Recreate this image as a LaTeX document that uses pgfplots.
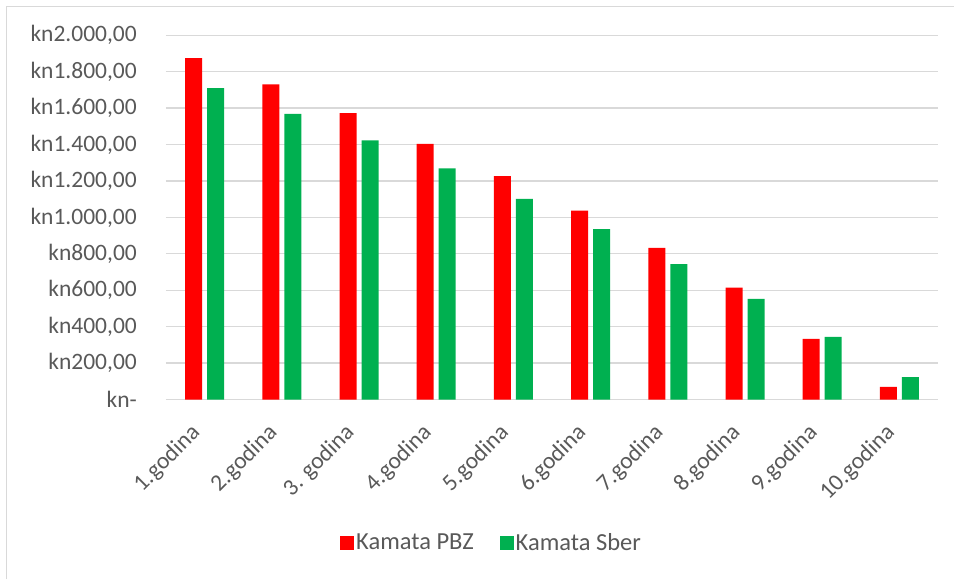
\documentclass[border=0pt]{standalone}
\usepackage{pgfplots}
\pgfplotsset{compat=1.18}
\usepackage{fontspec}
\setmainfont{Carlito}
\definecolor{txt}{HTML}{595959}
\definecolor{grd}{HTML}{D9D9D9}
\definecolor{pbz}{HTML}{FF0000}
\definecolor{sber}{HTML}{00B050}
\begin{document}
\fontsize{20}{24}\selectfont
\begin{tikzpicture}
\path[use as bounding box] (0,0) rectangle (954pt,579pt);
\draw[grd, line width=1.3pt] (6.7pt,0) -- (6.7pt,572.3pt) -- (954pt,572.3pt);
\begin{axis}[
  at={(166pt,179.5pt)}, anchor=south west,
  scale only axis, width=772pt, height=364.2pt,
  ybar=5pt, bar width=17pt,
  xmin=-0.5, xmax=9.5, ymin=0, ymax=2000,
  xtick={0,...,9},
  xticklabels={1.godina,2.godina,3. godina,4.godina,5.godina,6.godina,7.godina,8.godina,9.godina,10.godina},
  ytick={0,200,...,2000},
  yticklabels={kn-,kn200{,}00,kn400{,}00,kn600{,}00,kn800{,}00,kn1.000{,}00,kn1.200{,}00,kn1.400{,}00,kn1.600{,}00,kn1.800{,}00,kn2.000{,}00},
  /pgf/number format/assume math mode=true,
  major tick length=0pt,
  ymajorgrids, grid style={grd, line width=1.3pt},
  axis line style={draw=none},
  tick label style={text=txt},
  yticklabel style={font=\fontsize{23.5}{26}\selectfont, inner sep=0pt, anchor=east, xshift=-29pt},
  xticklabel style={font=\fontsize{23.5}{26}\selectfont, inner sep=0pt, xshift=-8pt, yshift=-30pt, rotate=45, anchor=east},
  legend style={at={(axis description cs:0.2215,-0.394)}, anchor=west, draw=none, fill=none,
    font=\fontsize{24.5}{27}\selectfont, text=txt, legend columns=2,
    /tikz/every even column/.append style={column sep=24pt}},
  legend image code/.code={\fill[#1] (0pt,-7pt) rectangle (14pt,7pt);},
]
\addplot[fill=pbz, draw=none] coordinates {(0,1875) (1,1731) (2,1573) (3,1404) (4,1227) (5,1037) (6,833) (7,615) (8,333) (9,70)};
\addplot[fill=sber, draw=none] coordinates {(0,1710) (1,1569) (2,1423) (3,1269) (4,1102) (5,936) (6,744) (7,553) (8,344) (9,123)};
\legend{Kamata PBZ, Kamata Sber}
\end{axis}
\end{tikzpicture}
\end{document}
